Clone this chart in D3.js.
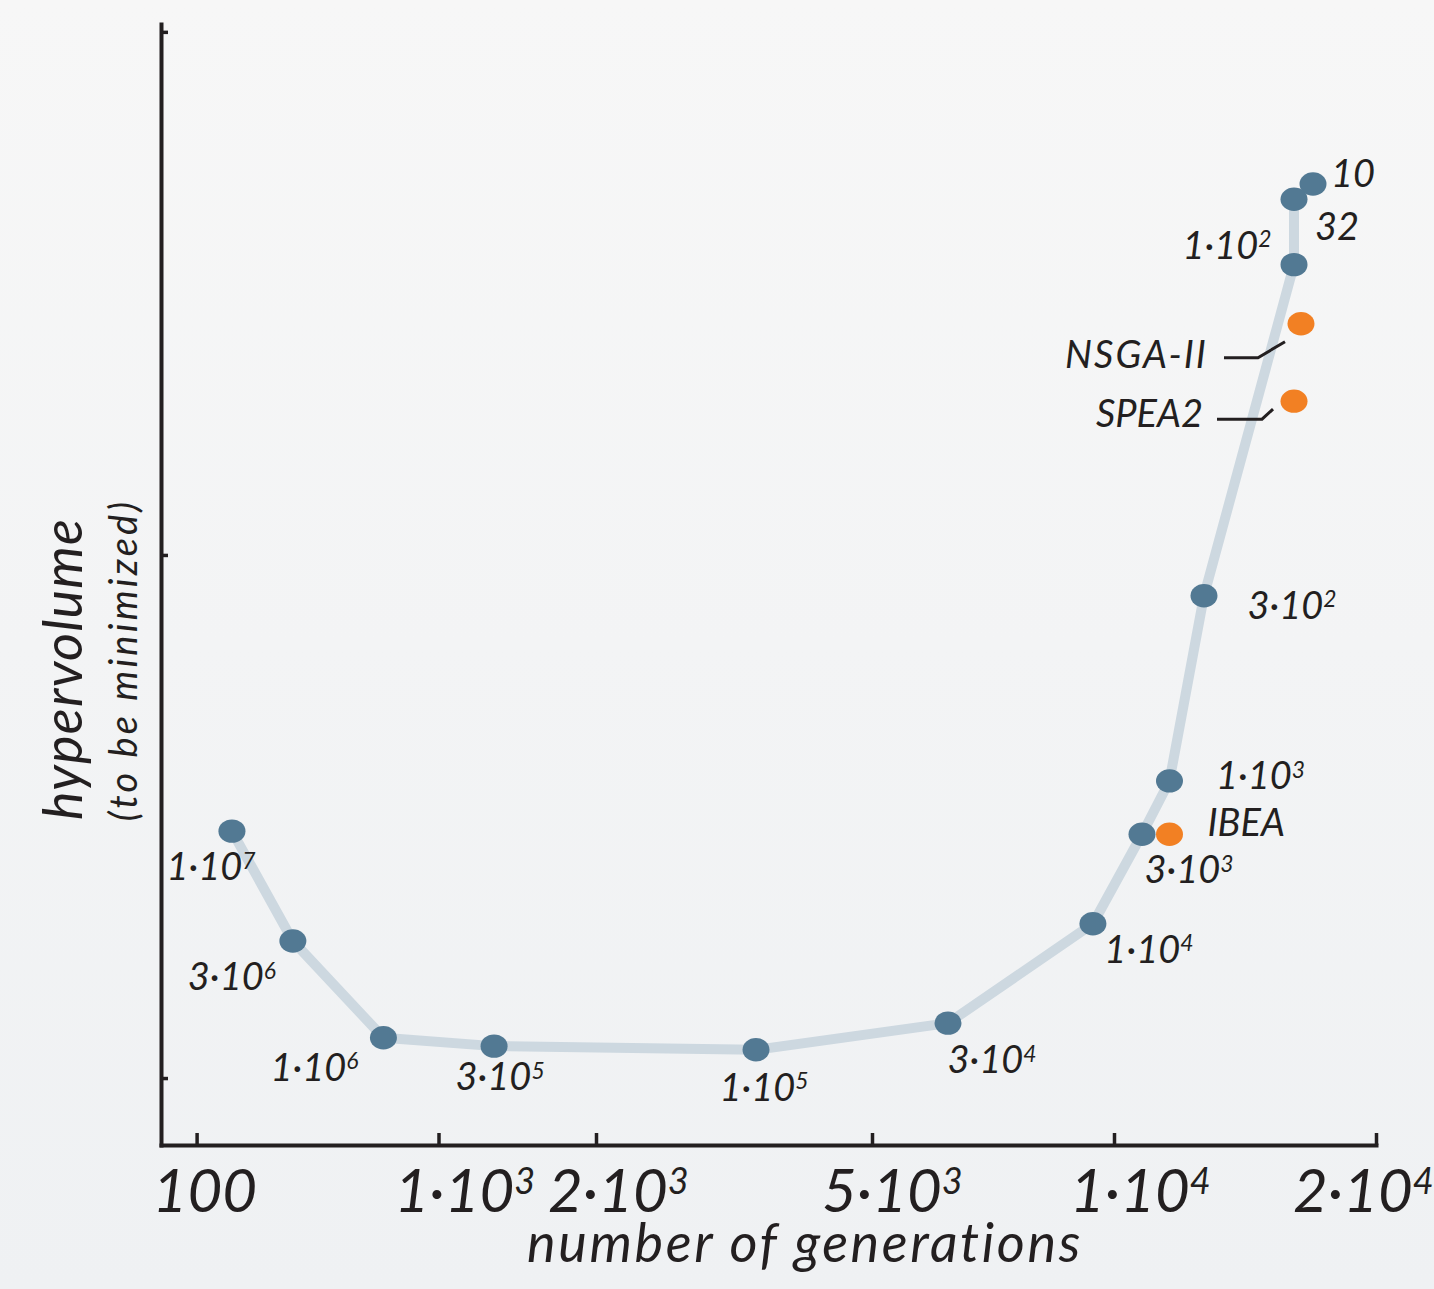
<!DOCTYPE html>
<html>
<head>
<meta charset="utf-8">
<script src="https://cdn.jsdelivr.net/npm/d3@7"></script>
<style>
  body { margin: 0; }
  svg text { font-family: Lato, 'Open Sans', sans-serif; font-style: italic; fill: #231f20; }
</style>
</head>
<body>
<div id="chart"></div>
<script>
// population size for each run on the curve (label), its generations and hypervolume
const popLabels = ['1·10^7', '3·10^6', '1·10^6', '3·10^5', '1·10^5', '3·10^4', '1·10^4', '3·10^3', '1·10^3', '3·10^2', '1·10^2', '32', '10'];
const generations = [140, 250, 592, 1277, 3402, 6216, 9414, 10769, 11581, 12688, 16100, 16100, 16930];
const hypervolume = [0.472, 0.262, 0.077, 0.061, 0.054, 0.105, 0.295, 0.466, 0.568, 0.922, 1.555, 1.680, 1.709];

// reference algorithms
const algoNames = ['NSGA-II', 'SPEA2', 'IBEA'];
const algoGenerations = [16400, 16100, 11581];
const algoHypervolume = [1.442, 1.294, 0.466];

const xTicks = [100, 1000, 2000, 5000, 10000, 20000];
const xTickLabels = ['100', '1·10^3', '2·10^3', '5·10^3', '1·10^4', '2·10^4'];
const yTicks = [0, 1, 2];

// layout only
const margin = { top: 24, right: 58, bottom: 144, left: 161 };
const width = 1434 - margin.left - margin.right;
const height = 1289 - margin.top - margin.bottom;
const labelDx = [-21, -61, -69, 6, 8, 44, 56, 47, 91, 88, -67, 43, 40];
const labelDy = [49, 49, 43, 44, 51, 50, 39, 49, 8, 23, -6, 41, 3];
const algoAnchor = ['end', 'end', 'start'];
const algoDx = [-93, -91, 38];
const algoDy = [44, 26, 2];
const leaders = [[[-77, 34], [-43, 34], [-16, 18]], [[-77, 18], [-32, 18], [-21, 8]], []];
const tickLabelDx = [-44, -44, -48, -50, -44, -83];

const ink = '#231f20';
const blue = '#527993';
const orange = '#f28023';
const curveColor = '#cdd8e0';

const svg = d3.select('#chart')
  .append('svg')
  .attr('width', 1434)
  .attr('height', 1289);

const grad = svg.append('defs').append('linearGradient')
  .attr('id', 'bg').attr('x1', 0).attr('y1', 0).attr('x2', 0).attr('y2', 1);
grad.append('stop').attr('offset', '0%').attr('stop-color', '#f7f7f7');
grad.append('stop').attr('offset', '100%').attr('stop-color', '#eff1f3');
svg.append('rect').attr('width', 1434).attr('height', 1289).attr('fill', 'url(#bg)');

const g = svg.append('g')
  .attr('transform', 'translate(' + margin.left + ',' + margin.top + ')');

// x axis is log-like but hand spaced, so use a piecewise log scale
const x = d3.scaleLog()
  .domain([71.3].concat(xTicks))
  .range([0, 35.6, 277.5, 435, 711, 953, width]);
const y = d3.scaleLinear().domain([-0.128, 2.015]).range([height, 0]);

function writeNumber(textSel, label) {
  const parts = label.split('^');
  textSel.append('tspan').text(parts[0]);
  if (parts.length > 1) {
    textSel.append('tspan')
      .attr('dy', '-0.5em')
      .style('font-size', '0.6em')
      .text(parts[1]);
  }
}

// axes
const xAxis = g.append('g')
  .attr('transform', 'translate(0,' + height + ')')
  .call(d3.axisBottom(x).tickValues(xTicks).tickSizeInner(-12).tickSizeOuter(0).tickFormat(''));
const yAxis = g.append('g')
  .call(d3.axisLeft(y).tickValues(yTicks).tickSizeInner(-7).tickSizeOuter(0).tickFormat(''));

[xAxis, yAxis].forEach(ax => {
  ax.select('.domain').attr('stroke', ink).attr('stroke-width', 4).attr('stroke-linecap', 'square');
  ax.selectAll('.tick line').attr('stroke', ink).attr('stroke-width', 3.5);
});

xTicks.forEach((t, i) => {
  const txt = g.append('text')
    .attr('x', x(t) + tickLabelDx[i])
    .attr('y', height + 67)
    .attr('text-anchor', 'start')
    .style('font-size', '60px');
  writeNumber(txt, xTickLabels[i]);
});

g.append('text')
  .attr('x', 805 - margin.left)
  .attr('y', 1262 - margin.top)
  .attr('text-anchor', 'middle')
  .style('font-size', '54px')
  .style('letter-spacing', '2.6px')
  .text('number of generations');

g.append('text')
  .attr('transform', 'translate(' + (82 - margin.left) + ',' + (669 - margin.top) + ') rotate(-90)')
  .attr('text-anchor', 'middle')
  .style('font-size', '54px')
  .style('letter-spacing', '1.2px')
  .text('hypervolume');

g.append('text')
  .attr('transform', 'translate(' + (137 - margin.left) + ',' + (660 - margin.top) + ') rotate(-90)')
  .attr('text-anchor', 'middle')
  .style('font-size', '38px')
  .style('letter-spacing', '3.2px')
  .text('(to be minimized)');

// run curve
const runs = generations.map((gen, i) => ({ gen: gen, hv: hypervolume[i], label: popLabels[i] }));
const line = d3.line().x(d => x(d.gen)).y(d => y(d.hv));

g.append('path')
  .datum(runs)
  .attr('d', line)
  .attr('fill', 'none')
  .attr('stroke', curveColor)
  .attr('stroke-width', 10)
  .attr('stroke-linejoin', 'round')
  .attr('stroke-linecap', 'round');

g.selectAll('.run')
  .data(runs)
  .join('ellipse')
  .attr('class', 'run')
  .attr('cx', d => x(d.gen))
  .attr('cy', d => y(d.hv))
  .attr('rx', 13.5)
  .attr('ry', 11.7)
  .attr('fill', blue);

runs.forEach((d, i) => {
  const txt = g.append('text')
    .attr('x', x(d.gen) + labelDx[i])
    .attr('y', y(d.hv) + labelDy[i])
    .attr('text-anchor', 'middle')
    .style('font-size', '38px');
  writeNumber(txt, d.label);
});

// reference algorithms
const algos = algoNames.map((n, i) => ({ name: n, gen: algoGenerations[i], hv: algoHypervolume[i] }));

algos.forEach((d, i) => {
  const cx = x(d.gen), cy = y(d.hv);
  if (leaders[i].length) {
    g.append('path')
      .attr('d', d3.line()(leaders[i].map(p => [cx + p[0], cy + p[1]])))
      .attr('fill', 'none')
      .attr('stroke', ink)
      .attr('stroke-width', 3);
  }
  g.append('text')
    .attr('x', cx + algoDx[i])
    .attr('y', cy + algoDy[i])
    .attr('text-anchor', algoAnchor[i])
    .style('font-size', '38px')
    .style('letter-spacing', i === 0 ? '2px' : '0px')
    .text(d.name);
});

g.selectAll('.algo')
  .data(algos)
  .join('ellipse')
  .attr('class', 'algo')
  .attr('cx', d => x(d.gen))
  .attr('cy', d => y(d.hv))
  .attr('rx', 13.5)
  .attr('ry', 11.7)
  .attr('fill', orange);
</script>
</body>
</html>
